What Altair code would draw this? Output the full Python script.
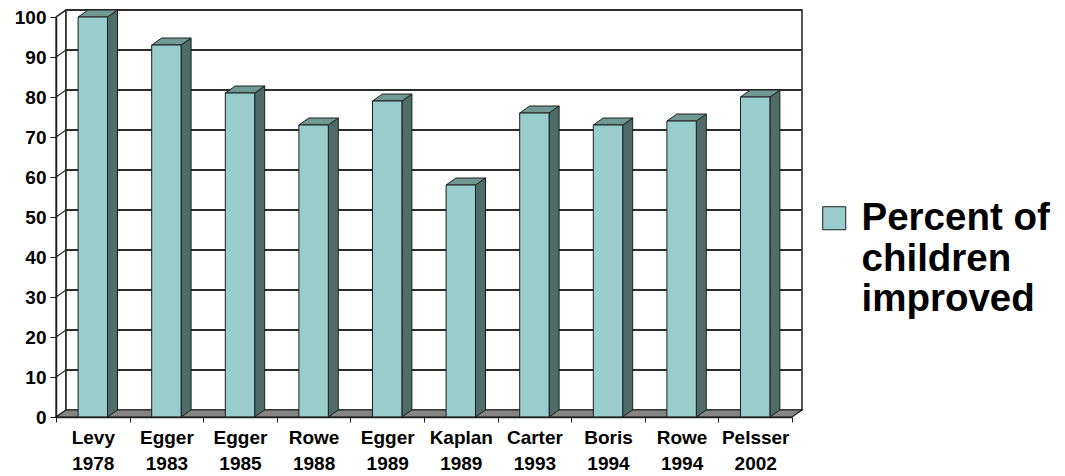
import json
import altair as alt
import pandas as pd

# ---------------- data ----------------
authors = ["Levy", "Egger", "Egger", "Rowe", "Egger", "Kaplan", "Carter", "Boris", "Rowe", "Pelsser"]
years = ["1978", "1983", "1985", "1988", "1989", "1989", "1993", "1994", "1994", "2002"]
percent = [100, 93, 81, 73, 79, 58, 76, 73, 74, 80]
y_tick_values = list(range(0, 101, 10))
series_lines = ["Percent of", "children", "improved"]
series_name = " ".join(series_lines)

# ---------------- style / geometry constants ----------------
W, H = 736, 400                 # plot area in pixels
N = len(percent)
YMAX = 100
PXU = W / N                     # pixels per x unit
PYU = H / YMAX                  # pixels per y unit
DX = 10 / PXU                   # 3-D depth, x (10 px)
DY = 7 / PYU                    # 3-D depth, y (7 px)
HW = 14.7 / PXU                 # half width of bar front face
FONT = "Liberation Sans"
EDGE = "#1e1e1e"
FRONT = "#99CCCC"
SIDE = "#4E6D69"
TOP = "#709994"
FLOOR = "#858585"

# ---------------- tables built from the data ----------------
bars = pd.DataFrame({"idx": range(N), "author": authors, "year": years, "value": percent})
bars["L"] = bars["idx"] + 0.5 - HW
bars["R"] = bars["idx"] + 0.5 + HW
bars["zero"] = 0
bars["series"] = series_name

side_rows, top_rows = [], []
for _, b in bars.iterrows():
    v = b["value"]
    side_rows += [
        {"bar": b["idx"], "x": b["R"], "top": v, "bot": 0},
        {"bar": b["idx"], "x": b["R"] + DX, "top": v + DY, "bot": DY},
    ]
    top_rows += [
        {"bar": b["idx"], "x": b["L"], "top": v, "bot": v},
        {"bar": b["idx"], "x": b["L"] + DX, "top": v + DY, "bot": v},
        {"bar": b["idx"], "x": b["R"], "top": v + DY, "bot": v},
        {"bar": b["idx"], "x": b["R"] + DX, "top": v + DY, "bot": v + DY},
    ]
side = pd.DataFrame(side_rows)
topf = pd.DataFrame(top_rows)

floor = pd.DataFrame({"x": [0, DX, N, N + DX], "top": [0, DY, DY, DY], "bot": [0, 0, 0, DY]})
leftwall = pd.DataFrame({"x": [0, DX], "top": [YMAX, YMAX + DY], "bot": [0, DY]})
backwall = pd.DataFrame({"x0": [DX], "x1": [N + DX], "y0": [DY], "y1": [YMAX + DY]})
grid = pd.DataFrame({"v": y_tick_values[1:]})
grid["vb"] = grid["v"] + DY
grid["x0"] = 0
grid["xb0"] = DX
grid["xb1"] = N + DX

# ---------------- scales / axes ----------------
xs = alt.Scale(domain=[0, N], nice=False, zero=False)
ys = alt.Scale(domain=[0, YMAX], nice=False, zero=False)

labels_js = json.dumps([[a, y] for a, y in zip(authors, years)])
x_axis = alt.Axis(
    values=list(range(N + 1)),
    labelExpr=f"datum.value < {N} ? {labels_js}[datum.value] : ''",
    labelOffset=PXU / 2,
    labelFont=FONT, labelFontSize=19, labelFontWeight="bold", labelColor="black",
    labelLineHeight=26, labelBaseline="top", labelPadding=6, labelAngle=0,
    labelOverlap=False, labelFlush=False, labelBound=False,
    tickSize=5, tickColor=EDGE, domainColor=EDGE, domainWidth=1.5,
    grid=False, title=None, zindex=1,
)
y_axis = alt.Axis(
    values=y_tick_values,
    labelFont=FONT, labelFontSize=19, labelFontWeight="bold", labelColor="black",
    labelPadding=4, tickSize=6, tickColor=EDGE, domainColor=EDGE, domainWidth=1.5,
    grid=False, title=None, zindex=1,
)


def X(f):
    return alt.X(f"{f}:Q", scale=xs, axis=x_axis, title=None)


def Y(f):
    return alt.Y(f"{f}:Q", scale=ys, axis=y_axis, title=None)


left_layer = alt.Chart(leftwall).mark_area(fill="white", stroke=EDGE, strokeWidth=1.2).encode(
    x=X("x"), y=Y("top"), y2="bot:Q")
back_layer = alt.Chart(backwall).mark_rect(fill="white", stroke=EDGE, strokeWidth=1.5).encode(
    x=X("x0"), x2="x1:Q", y=Y("y0"), y2="y1:Q")
grid_layer = alt.Chart(grid).mark_rule(color="#2e2e2e", strokeWidth=1.8).encode(
    x=X("xb0"), x2="xb1:Q", y=Y("vb"))
diag_layer = alt.Chart(grid).mark_rule(color="#2e2e2e", strokeWidth=1.3).encode(
    x=X("x0"), x2="xb0:Q", y=Y("v"), y2="vb:Q")
floor_layer = alt.Chart(floor).mark_area(fill=FLOOR, stroke=EDGE, strokeWidth=1.2).encode(
    x=X("x"), y=Y("top"), y2="bot:Q")
side_layer = alt.Chart(side).mark_area(fill=SIDE, stroke=EDGE, strokeWidth=1).encode(
    x=X("x"), y=Y("top"), y2="bot:Q", detail="bar:N")
top_layer = alt.Chart(topf).mark_area(fill=TOP, stroke=EDGE, strokeWidth=1).encode(
    x=X("x"), y=Y("top"), y2="bot:Q", detail="bar:N")
front_layer = alt.Chart(bars).mark_rect(stroke=EDGE, strokeWidth=1).encode(
    x=X("L"), x2="R:Q", y=Y("value"), y2="zero:Q",
    color=alt.Color(
        "series:N",
        scale=alt.Scale(domain=[series_name], range=[FRONT]),
        legend=alt.Legend(
            title=None, orient="none", legendX=759, legendY=182,
            symbolType="square", symbolSize=530, symbolStrokeColor=EDGE,
            symbolStrokeWidth=1, symbolFillColor=FRONT,
            labelFont=FONT, labelFontSize=38.5, labelFontWeight="bold",
            labelColor="black", labelLimit=500,
            labelExpr=f"{json.dumps(series_lines)}", labelOffset=8,
            labelBaseline="middle",
        ),
    ),
)

chart = alt.layer(
    left_layer, back_layer, grid_layer, diag_layer, floor_layer,
    side_layer, top_layer, front_layer,
).properties(
    width=W, height=H, autosize="none",
    padding={"left": 56, "top": 17, "right": 1065 - 56 - W, "bottom": 476 - 17 - H},
    background="white",
).configure_view(stroke=None)

chart.save("out.html", embed_options={"renderer": "svg", "actions": False})
